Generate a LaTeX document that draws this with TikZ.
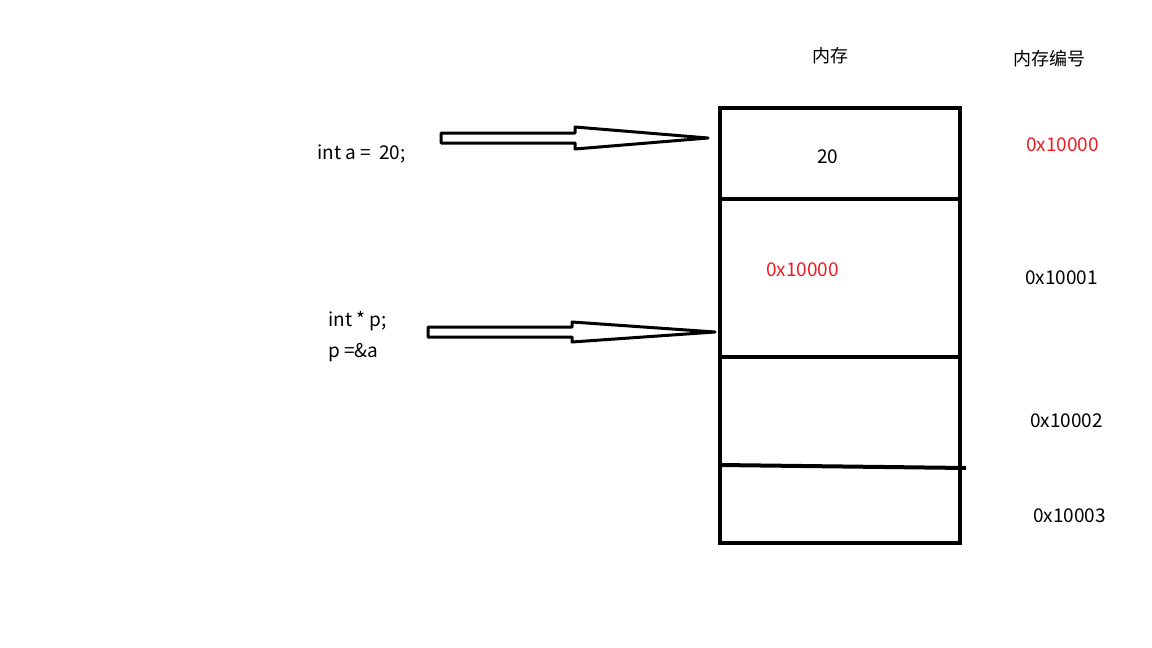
\documentclass[tikz,border=0pt]{standalone}
\usepackage{fontspec}
\usetikzlibrary{calc}
\setmainfont{Noto Sans CJK SC}
\definecolor{addrred}{RGB}{237,28,36}
\begin{document}
\begin{tikzpicture}[x=1pt,y=-1pt,
  txt/.style={font=\fontsize{19}{22}\selectfont, inner sep=0pt, anchor=base west},
  head/.style={font=\fontsize{18}{22}\selectfont, inner sep=0pt, anchor=center},
  addr/.style={txt},
  hot/.style={txt, text=addrred},
  cell/.style={line width=4pt},
  blockarrow/.style={line width=3pt, line join=round, fill=white}]
\useasboundingbox (0,0) rectangle (1152,648);

% memory column
\draw[cell] (720,108) rectangle (960,543);
\coordinate (d1l) at (720,199);  \coordinate (d1r) at (960,199);
\coordinate (d2l) at (720,357);  \coordinate (d2r) at (960,357);
\coordinate (d3l) at (720,465);  \coordinate (d3r) at (966,468);
\draw[cell] (d1l) -- (d1r);
\draw[cell] (d2l) -- (d2r);
\draw[cell] (d3l) -- (d3r);

% headings
\node[head] (mem) at (830,56) {内存};
\node[head] (memid) at (1049,59) {内存编号};

% cell contents
\node[txt] (val) at (817,163) {20};
\node[hot] (ptrval) at (766,276) {0x10000};

% addresses
\node[hot] (a0) at (1026,151) {0x10000};
\node[addr] (a1) at (1025,284) {0x10001};
\node[addr] (a2) at (1030,427) {0x10002};
\node[addr] (a3) at (1033,522) {0x10003};

% code
\node[txt] (deca) at (317,159) {int a =\ \ 20;};
\node[txt] (decp) at (328,326) {int * p;};
\node[txt] (setp) at (328,357) {p =\&a};

% block arrows into the cells
\coordinate (t1) at (441,138);
\coordinate (tip1) at (708,138);
\draw[blockarrow] ($(t1)+(0,-5)$) -- ++(134,0) -- ++(0,-6) -- (tip1)
  -- ($(t1)+(134,11)$) -- ++(0,-6) -- ($(t1)+(0,5)$) -- cycle;

\coordinate (t2) at (428,332);
\coordinate (tip2) at (715,332);
\draw[blockarrow] ($(t2)+(0,-5)$) -- ++(144,0) -- ++(0,-5) -- (tip2)
  -- ($(t2)+(144,10)$) -- ++(0,-5) -- ($(t2)+(0,5)$) -- cycle;
\end{tikzpicture}
\end{document}
